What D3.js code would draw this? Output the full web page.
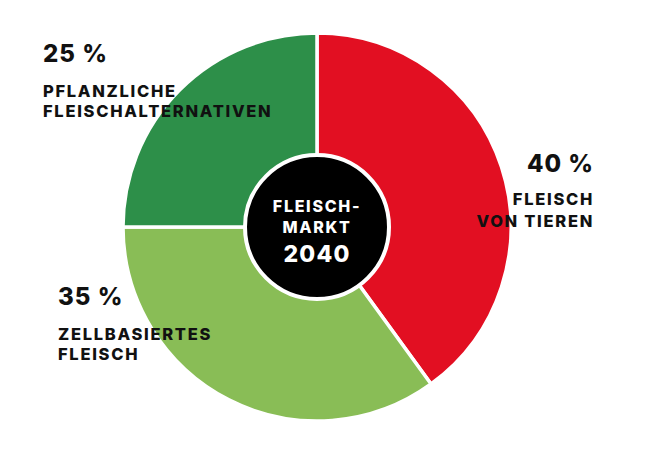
<!DOCTYPE html>
<html>
<head>
<meta charset="utf-8">
<script src="https://cdn.jsdelivr.net/npm/d3@7"></script>
<style>
  html, body { margin: 0; padding: 0; background: #fff; }
  text { font-family: Inter, "Noto Sans", sans-serif; font-weight: 800; fill: #111; }
</style>
</head>
<body>
<div id="chart"></div>
<script>
'use strict';

// data
var categories = ['FLEISCH VON TIEREN', 'ZELLBASIERTES FLEISCH', 'PFLANZLICHE FLEISCHALTERNATIVEN']
  , shares     = [40, 35, 25]
  , colors     = ['#e20f22', '#89bd56', '#2d8f49']
  , labelLines = [['FLEISCH', 'VON TIEREN'], ['ZELLBASIERTES', 'FLEISCH'], ['PFLANZLICHE', 'FLEISCHALTERNATIVEN']]
  , centerLines = ['FLEISCH-', 'MARKT', '2040'];

var width = 658, height = 450
  , cx = 317, cy = 227
  , outer = 194, hole = 72;

var svg = d3.select('#chart').append('svg')
    .attr('width', width)
    .attr('height', height);

var pie = d3.pie().sort(null).value(function(d){ return d; })
  , arc = d3.arc().innerRadius(0).outerRadius(outer);

var g = svg.append('g').attr('transform', 'translate(' + cx + ',' + cy + ')');

g.selectAll('path.slice')
  .data(pie(shares))
  .enter().append('path')
    .attr('class', 'slice')
    .attr('d', arc)
    .attr('fill', function(d, i){ return colors[i]; })
    .attr('stroke', '#fff')
    .attr('stroke-width', 3.5)
    .attr('stroke-linejoin', 'round');

// black center
g.append('circle')
  .attr('r', hole)
  .attr('fill', '#000')
  .attr('stroke', '#fff')
  .attr('stroke-width', 4);

var center = g.append('text').attr('text-anchor', 'middle');
center.append('tspan').attr('x', 0).attr('y', -15)
  .style('font-size', '16px').style('letter-spacing', '1.7px').style('fill', '#fff')
  .text(centerLines[0]);
center.append('tspan').attr('x', 0).attr('y', 6)
  .style('font-size', '16px').style('letter-spacing', '1.7px').style('fill', '#fff')
  .text(centerLines[1]);
center.append('tspan').attr('x', 0).attr('y', 35)
  .style('font-size', '23px').style('letter-spacing', '1.2px').style('fill', '#fff')
  .text(centerLines[2]);

// outside labels: position per slice (x, anchor, baselines)
var labelPos = [
  { x: 594, anchor: 'end',   pct: 172, lines: [205, 227] },
  { x: 58,  anchor: 'start', pct: 305, lines: [340, 360] },
  { x: 43,  anchor: 'start', pct: 62,  lines: [97, 117] }
];

shares.forEach(function(v, i){
  var p = labelPos[i];
  svg.append('text')
    .attr('x', p.x).attr('y', p.pct)
    .attr('text-anchor', p.anchor)
    .style('font-size', '24px')
    .style('letter-spacing', '1px')
    .text(v + ' %');
  labelLines[i].forEach(function(line, j){
    svg.append('text')
      .attr('x', p.x).attr('y', p.lines[j])
      .attr('text-anchor', p.anchor)
      .style('font-size', '16.5px')
      .style('letter-spacing', '1.7px')
      .text(line);
  });
});
</script>
</body>
</html>
